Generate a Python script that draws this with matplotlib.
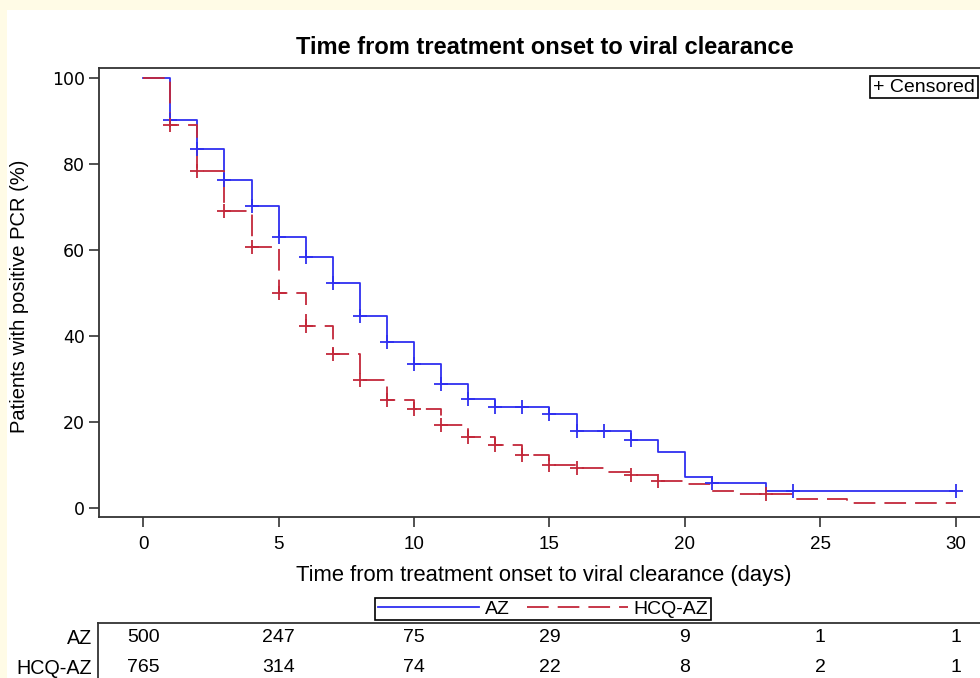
import matplotlib
matplotlib.use("Agg")
import matplotlib.pyplot as plt
import numpy as np
from matplotlib.lines import Line2D
from matplotlib.patches import Rectangle
from matplotlib import transforms

plt.rcParams["font.family"] = ["Liberation Sans", "DejaVu Sans"]

# Kaplan-Meier step curves (time of change, % still PCR positive)
az_time = [0, 1, 2, 3, 4, 5, 6, 7, 8, 9, 10, 11, 12, 13, 15, 16, 18, 19, 20, 21, 23, 30]
az_surv = [100, 90.2, 83.4, 76.3, 70.2, 63.1, 58.3, 52.4, 44.7, 38.5, 33.5, 28.8,
           25.3, 23.4, 21.8, 18.0, 15.7, 13.0, 7.1, 5.8, 3.9, 3.9]

hcq_time = [0, 1, 2, 3, 4, 5, 6, 7, 8, 9, 10, 11, 12, 13, 14, 15, 16, 17, 18, 19,
            20, 21, 22, 24, 26, 30]
hcq_surv = [100, 89.1, 78.4, 69.1, 60.6, 49.9, 42.4, 35.9, 29.8, 25.1, 22.9, 19.3,
            16.6, 14.7, 12.2, 10.0, 9.4, 8.3, 7.7, 6.2, 5.6, 4.0, 3.2, 2.1, 1.1, 1.1]

# censoring times
az_cens = [1, 2, 3, 4, 5, 6, 7, 8, 9, 10, 11, 12, 13, 14, 15, 16, 17, 18, 21, 24, 30]
hcq_cens = [1, 2, 3, 4, 5, 6, 7, 8, 9, 10, 11, 12, 13, 14, 15, 16, 18, 19, 23]

# number at risk
risk_days = [0, 5, 10, 15, 20, 25, 30]
risk_az = [500, 247, 75, 29, 9, 1, 1]
risk_hcq = [765, 314, 74, 22, 8, 2, 1]

x_ticks = [0, 5, 10, 15, 20, 25, 30]
y_ticks = [0, 20, 40, 60, 80, 100]

BLUE = "#2f2ff0"
RED = "#c3283a"
W, H = 980, 678


def step_value(times, surv, t):
    idx = np.searchsorted(times, t, side="right") - 1
    return np.asarray(surv)[idx]


fig = plt.figure(figsize=(W / 100, H / 100), dpi=100, facecolor="#fffbe6")
fig.add_artist(Rectangle((7 / W, 0), 1, 1 - 10 / H, transform=fig.transFigure,
                         facecolor="white", edgecolor="none", zorder=-10))

ax = fig.add_axes([99 / W, 1 - 517 / H, (991 - 99) / W, (517 - 68) / H])
ax.set_facecolor("white")

ax.plot(az_time, az_surv, drawstyle="steps-post", color=BLUE, lw=1.3, label="AZ")
ax.plot(hcq_time, hcq_surv, drawstyle="steps-post", color=RED, lw=1.3,
        dashes=(12, 5), label="HCQ-AZ")

ax.plot(az_cens, [step_value(az_time, az_surv, t) for t in az_cens], "+",
        color=BLUE, ms=10, mew=1.3)
ax.plot(hcq_cens, [step_value(hcq_time, hcq_surv, t) for t in hcq_cens], "+",
        color=RED, ms=10, mew=1.3)

ax.set_xlim(-1.63, 31.3)
ax.set_ylim(-2.1, 102.3)
ax.set_xticks(x_ticks)
ax.set_yticks(y_ticks)
ax.tick_params(axis="x", labelsize=13.5, length=7, width=1.2, color="#333333", pad=7)
ax.tick_params(axis="y", labelsize=13, length=7, width=1.2, color="#333333", pad=3)
for lbl in ax.get_yticklabels():
    lbl.set_fontfamily(["DejaVu Sans"])
    lbl.set_fontsize(12.5)
for side in ["left", "bottom", "top"]:
    ax.spines[side].set_color("#333333")
    ax.spines[side].set_linewidth(1.3)
ax.spines["right"].set_visible(False)

fig.text(975 / W, 1 - 87 / H, "+ Censored", ha="right", va="center",
         fontsize=14, bbox=dict(boxstyle="square,pad=0.15", facecolor="white",
                                edgecolor="black", lw=1.2))

fig.text(545 / W, 1 - 47 / H, "Time from treatment onset to viral clearance",
         ha="center", va="center", fontsize=17, fontweight="bold")
fig.text(544 / W, 1 - 575 / H, "Time from treatment onset to viral clearance (days)",
         ha="center", va="center", fontsize=15.8)
fig.text(20 / W, 1 - 296 / H, "Patients with positive PCR (%)", ha="center",
         va="center", rotation=90, fontsize=14.5)

leg = fig.legend(loc="center", bbox_to_anchor=(543 / W, 1 - 609 / H), ncol=2,
                 fontsize=14, handlelength=5.2, columnspacing=0.9, handletextpad=0.3,
                 borderpad=0.12, fancybox=False, edgecolor="black", framealpha=1)
leg.get_frame().set_linewidth(1.2)

# number at risk table
fig.add_artist(Line2D([98 / W, 1], [1 - 623 / H] * 2, transform=fig.transFigure,
                      color="#333333", lw=1.3))
fig.add_artist(Line2D([98 / W, 98 / W], [1 - 623 / H, 0], transform=fig.transFigure,
                      color="#333333", lw=1.3))
trans = transforms.blended_transform_factory(ax.transData, fig.transFigure)
for label, counts, y in [("AZ", risk_az, 638), ("HCQ-AZ", risk_hcq, 668)]:
    fig.text(92 / W, 1 - y / H, label, ha="right", va="center", fontsize=14.2)
    for d, n in zip(risk_days, counts):
        ax.text(d, 1 - y / H, str(n), transform=trans, ha="center", va="center",
                fontsize=14, clip_on=False)

fig.savefig("out.png", dpi=100, facecolor=fig.get_facecolor())
